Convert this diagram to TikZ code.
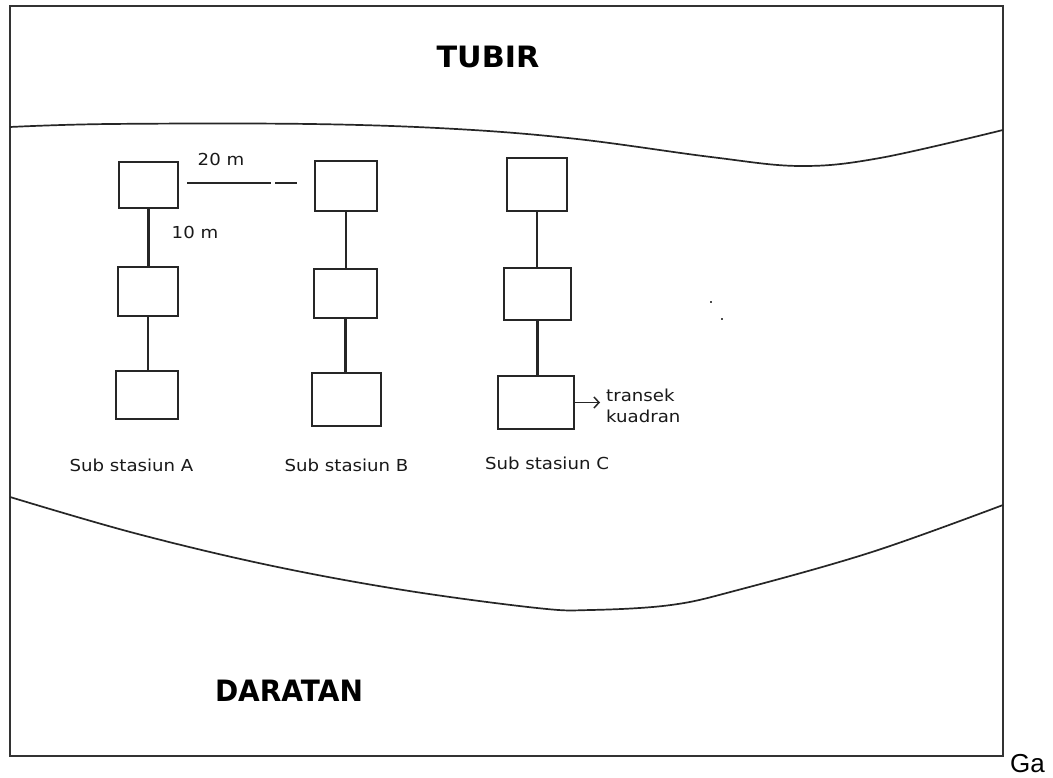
\documentclass[tikz,border=0pt]{standalone}
\usepackage{fontspec}
\setmainfont{DejaVu Sans}
\newfontfamily\titlef{DejaVu Sans}
\newfontfamily\gaf{Liberation Sans}
\usetikzlibrary{arrows.meta}
\tikzset{
  plot/.style={draw=black!85, line width=2.2pt, inner sep=0pt, fill=white},
  lbl/.style={inner sep=0pt, font=\fontsize{16.5}{20}\selectfont, text=black!90},
  bigt/.style={inner sep=0pt, font=\titlef\bfseries\fontsize{28}{30}\selectfont},
  conn/.style={draw=black!85, line width=2.2pt},
  shore/.style={draw=black!85, line width=1.7pt},
}
\newcommand{\wide}[1]{\scalebox{1.1}[1]{#1}}
\begin{document}
\begin{tikzpicture}[x=1pt,y=-1pt]
\useasboundingbox (0,0) rectangle (1053,778);
\fill[white] (0,0) rectangle (1053,778);
% frame
\draw[draw=black!80, line width=2.2pt] (10,6) rectangle (1003,756);
% shore lines
\draw[shore] plot[smooth, tension=0.6] coordinates {(10,127) (110,124) (310,124) (456,129) (577,139) (711,157) (800,166) (880,158) (1003,130)};
\draw[shore] plot[smooth, tension=0.6] coordinates {(10,497) (134,533) (268,565) (403,590) (537,608) (591,610) (671,605) (738,590) (872,552) (1003,505)};
% titles
\node[bigt] (tubir) at (488,57) {\scalebox{1.08}[1.05]{TUBIR}};
\node[bigt] (daratan) at (289,691) {\scalebox{1}[1.05]{DARATAN}};
% plots
\node[plot, minimum width=59pt, minimum height=46pt] (A1) at (148.5,185) {};
\node[plot, minimum width=60pt, minimum height=49pt] (A2) at (148,291.5) {};
\node[plot, minimum width=62pt, minimum height=48pt] (A3) at (147,395) {};
\node[plot, minimum width=62pt, minimum height=50pt] (B1) at (346,186) {};
\node[plot, minimum width=63pt, minimum height=49pt] (B2) at (345.5,293.5) {};
\node[plot, minimum width=69pt, minimum height=53pt] (B3) at (346.5,399.5) {};
\node[plot, minimum width=60pt, minimum height=53pt] (C1) at (537,184.5) {};
\node[plot, minimum width=67pt, minimum height=52pt] (C2) at (537.5,294) {};
\node[plot, minimum width=76pt, minimum height=53pt] (C3) at (536,402.5) {};
% connectors
\draw[conn] (A1.south) -- (A1.south |- A2.north);
\draw[conn] (A2.south) -- (A2.south |- A3.north);
\draw[conn] (B1.south) -- (B1.south |- B2.north);
\draw[conn] (B2.south) -- (B2.south |- B3.north);
\draw[conn] (C1.south) -- (C1.south |- C2.north);
\draw[conn] (C2.south) -- (C2.south |- C3.north);
% distance marks
\coordinate (d1) at (187,183);
\coordinate (d2) at (271,183);
\coordinate (d3) at (275,183);
\coordinate (d4) at (297,183);
\draw[line width=1.5pt, draw=black!85] (d1) -- (d2);
\draw[line width=1.5pt, draw=black!85] (d3) -- (d4);
\node[lbl] (l20) at (221,159) {\wide{20 m}};
\node[lbl] (l10) at (195,232) {\wide{10 m}};
% arrow label
\node[lbl, anchor=west, align=left] (tk) at (606,406) {\wide{transek}\\[1pt]\wide{kuadran}};
\coordinate (ae) at (600,402.5);
\draw[line width=1.5pt, draw=black!85, -{Straight Barb[length=5pt,width=11pt]}] (C3.east) -- (ae);
% station labels
\node[lbl] (sA) at (131.5,465) {\wide{Sub stasiun A}};
\node[lbl] (sB) at (346.5,465) {\wide{Sub stasiun B}};
\node[lbl] (sC) at (547,463) {\wide{Sub stasiun C}};
% specks
\fill[black!70] (710,301) rectangle (712,303);
\fill[black!70] (721,318) rectangle (723,320);
% trailing text
\node[inner sep=0pt, anchor=base west, font=\gaf\fontsize{26}{30}\selectfont] (ga) at (1010,772) {Ga};
\end{tikzpicture}
\end{document}
